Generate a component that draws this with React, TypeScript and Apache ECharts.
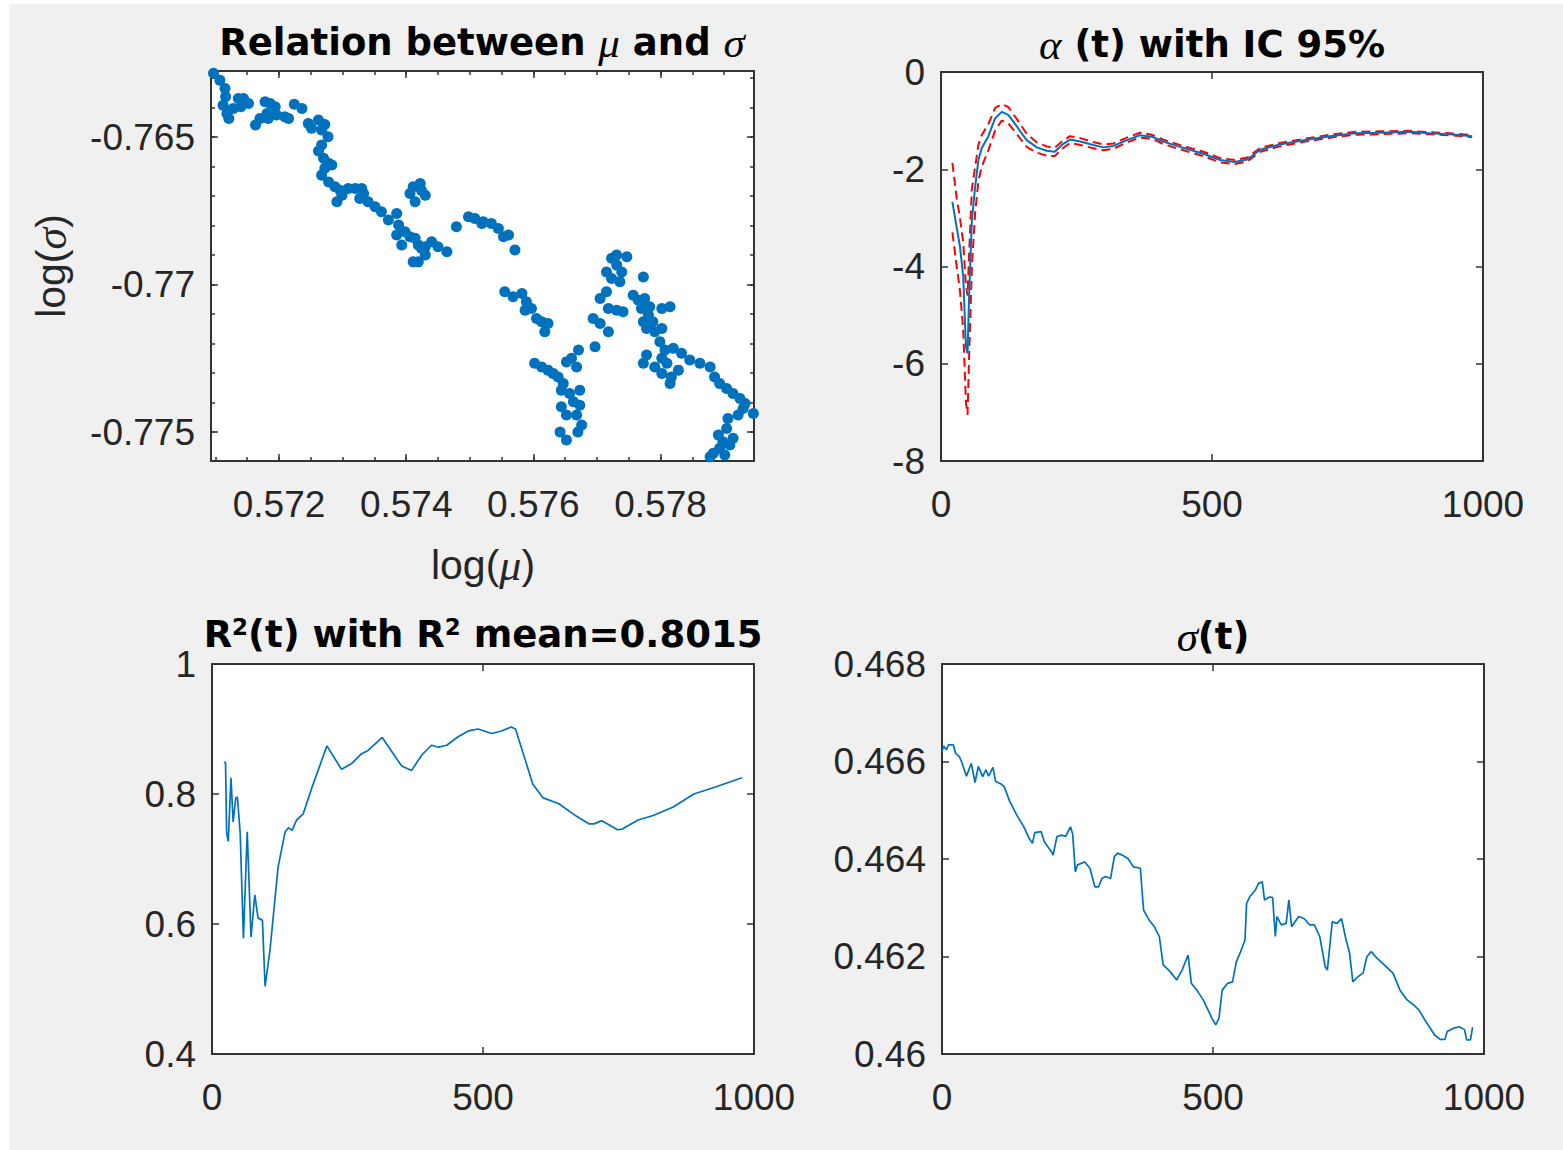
import React, { useEffect, useRef } from 'react';
import * as echarts from 'echarts';

// ---------- DATA ----------
// Top-left: scatter of log(mu) vs log(sigma)
const muSigmaPoints: [number, number][] = [
  [0.57097,-0.76284],[0.57107,-0.76307],[0.57115,-0.76335],[0.57116,-0.76363],[0.57112,-0.76392],
  [0.57118,-0.7642],[0.57121,-0.76437],[0.57128,-0.76403],[0.57136,-0.76369],[0.57144,-0.76369],
  [0.57152,-0.76386],[0.5714,-0.76397],[0.57163,-0.76459],[0.5717,-0.76437],[0.57178,-0.7638],
  [0.57186,-0.76386],[0.57194,-0.76397],[0.57181,-0.7642],[0.57183,-0.76437],[0.57196,-0.76425],
  [0.57209,-0.76431],[0.57215,-0.76437],[0.57224,-0.76389],[0.57236,-0.76403],[0.57246,-0.76454],
  [0.57251,-0.7647],[0.57262,-0.76442],[0.57272,-0.76457],[0.57267,-0.76476],[0.57277,-0.76499],
  [0.57267,-0.76527],[0.57262,-0.76547],[0.5727,-0.76572],[0.57278,-0.76589],[0.57283,-0.76595],
  [0.57272,-0.76606],[0.57267,-0.76629],[0.57278,-0.76652],[0.57288,-0.76668],[0.57296,-0.7668],
  [0.57291,-0.76719],[0.57299,-0.76697],[0.57309,-0.76674],[0.5732,-0.76674],[0.5733,-0.76674],
  [0.57333,-0.76691],[0.57327,-0.76708],[0.5734,-0.76719],[0.57351,-0.76736],[0.57361,-0.76753],
  [0.57372,-0.76781],[0.57385,-0.76759],[0.57388,-0.76798],[0.57385,-0.76832],[0.57393,-0.76866],
  [0.57398,-0.76821],[0.57406,-0.76838],[0.57414,-0.76843],[0.57419,-0.76866],[0.57424,-0.76877],
  [0.5743,-0.76872],[0.5744,-0.76855],[0.5745,-0.76872],[0.57464,-0.76889],[0.5743,-0.769],
  [0.57419,-0.76923],[0.57411,-0.76923],[0.57406,-0.76691],[0.57411,-0.76668],[0.57422,-0.76657],
  [0.5743,-0.76697],[0.57414,-0.76719],[0.57424,-0.7668],[0.57479,-0.76804],[0.57498,-0.7677],
  [0.57508,-0.76776],[0.57519,-0.76793],[0.57521,-0.76787],[0.57534,-0.76793],[0.57545,-0.7681],
  [0.57553,-0.76838],[0.57561,-0.76832],[0.57571,-0.76883],[0.57555,-0.77024],[0.57568,-0.77041],
  [0.57582,-0.7703],[0.57589,-0.77058],[0.57587,-0.77087],[0.57597,-0.77081],[0.57605,-0.77115],
  [0.57613,-0.77126],[0.57623,-0.77132],[0.57618,-0.7716],[0.57602,-0.77267],[0.57613,-0.77279],
  [0.57623,-0.7729],[0.57631,-0.77301],[0.57639,-0.77313],[0.57647,-0.77335],[0.57652,-0.77262],
  [0.5766,-0.7725],[0.57671,-0.77222],[0.57668,-0.77279],[0.57644,-0.77358],[0.57657,-0.77369],
  [0.57673,-0.77358],[0.57663,-0.77397],[0.57673,-0.77409],[0.57644,-0.77414],[0.57668,-0.77442],
  [0.57652,-0.77442],[0.57642,-0.775],[0.57652,-0.77527],[0.5767,-0.775],[0.57676,-0.77476],
  [0.57697,-0.77211],[0.57694,-0.77115],[0.57705,-0.77132],[0.57718,-0.7716],[0.57705,-0.77047],
  [0.57715,-0.77024],[0.57718,-0.77081],[0.57731,-0.77087],[0.57741,-0.77092],[0.57715,-0.76957],
  [0.57723,-0.76979],[0.57731,-0.76934],[0.57723,-0.76911],[0.57731,-0.769],[0.57747,-0.76906],
  [0.57736,-0.7699],[0.57739,-0.76957],[0.57773,-0.76974],[0.57757,-0.77036],[0.57765,-0.77053],
  [0.57775,-0.77047],[0.57783,-0.77075],[0.5777,-0.77081],[0.57781,-0.77103],[0.57788,-0.77126],
  [0.57802,-0.77081],[0.57815,-0.77075],[0.57773,-0.77126],[0.57778,-0.77149],[0.57791,-0.7716],
  [0.57802,-0.77149],[0.57799,-0.77194],[0.57807,-0.77222],[0.5782,-0.77216],[0.57833,-0.77233],
  [0.57846,-0.77256],[0.57862,-0.77267],[0.57878,-0.77279],[0.57885,-0.77313],[0.57893,-0.77335],
  [0.57904,-0.77352],[0.57914,-0.77369],[0.57925,-0.77386],[0.57933,-0.77403],[0.57946,-0.77437],
  [0.57773,-0.77267],[0.57778,-0.77239],[0.57791,-0.77279],[0.57802,-0.7725],[0.5781,-0.77267],
  [0.57802,-0.77301],[0.57817,-0.77313],[0.57815,-0.77335],[0.57828,-0.7729],[0.57906,-0.77454],
  [0.57904,-0.77488],[0.57891,-0.7751],[0.57898,-0.77533],[0.57909,-0.77544],[0.57893,-0.77555],
  [0.57883,-0.77572],[0.57878,-0.77584],[0.57901,-0.77578],[0.57914,-0.77521],[0.57922,-0.77442],
  [0.5793,-0.7742],
];

// Top-right: alpha(t) with 95% confidence band
const alphaT = [21,29,35,41,46,49,52,57,63,69,75,87,100,112,124,140,158,177,195,210,223,238,257,281,300,318,343,367,389,410,435,459,484,515,542,565,589,625,672,718,764,810,865,902,939,980];
const alphaMid = [-2.67,-3.2,-3.59,-4.21,-5.65,-5.79,-4.55,-3.05,-2.36,-1.81,-1.57,-1.33,-0.95,-0.82,-0.88,-1.12,-1.4,-1.55,-1.62,-1.64,-1.5,-1.39,-1.43,-1.5,-1.55,-1.52,-1.4,-1.3,-1.33,-1.43,-1.52,-1.6,-1.68,-1.81,-1.85,-1.8,-1.6,-1.49,-1.4,-1.32,-1.26,-1.25,-1.23,-1.26,-1.28,-1.32];
const alphaUp = [-1.87,-2.6,-3.0,-3.5,-4.4,-4.6,-3.7,-2.4,-1.95,-1.5,-1.3,-1.08,-0.74,-0.66,-0.72,-0.97,-1.27,-1.45,-1.53,-1.56,-1.43,-1.32,-1.36,-1.44,-1.49,-1.47,-1.35,-1.25,-1.29,-1.39,-1.48,-1.56,-1.64,-1.77,-1.81,-1.76,-1.56,-1.46,-1.37,-1.29,-1.23,-1.22,-1.21,-1.24,-1.26,-1.3];
const alphaLo = [-3.3,-4.0,-4.5,-5.3,-6.8,-7.05,-5.8,-4.0,-2.9,-2.25,-1.95,-1.62,-1.2,-1.0,-1.05,-1.28,-1.54,-1.66,-1.72,-1.73,-1.58,-1.46,-1.5,-1.57,-1.61,-1.58,-1.45,-1.35,-1.37,-1.48,-1.57,-1.65,-1.73,-1.86,-1.89,-1.84,-1.64,-1.53,-1.43,-1.35,-1.29,-1.28,-1.26,-1.28,-1.3,-1.34];

// Bottom-left: R^2(t)
const r2Points: [number, number][] = [
  [22,0.849],[25,0.848],[27,0.74],[30,0.727],[35,0.825],[39,0.757],[44,0.795],[47,0.794],[52,0.74],
  [58,0.578],[65,0.742],[72,0.58],[79,0.645],[85,0.609],[93,0.606],[98,0.504],[107,0.56],[122,0.688],
  [135,0.742],[141,0.748],[148,0.744],[156,0.76],[168,0.769],[184,0.809],[212,0.874],[239,0.838],
  [258,0.847],[276,0.862],[288,0.867],[314,0.887],[350,0.843],[368,0.836],[387,0.86],[405,0.875],
  [418,0.872],[433,0.875],[454,0.888],[473,0.897],[491,0.9],[516,0.893],[534,0.897],[552,0.903],
  [560,0.9],[592,0.815],[611,0.794],[640,0.785],[672,0.766],[696,0.754],[705,0.754],[719,0.759],
  [734,0.752],[748,0.745],[757,0.746],[786,0.76],[814,0.767],[851,0.78],[889,0.8],[926,0.81],[978,0.825],
];

// Bottom-right: sigma(t)
const sigmaT = [0,3,8,12,21,25,32,36,45,54,61,67,75,81,86,94,99,109,115,125,138,151,161,167,171,183,189,202,205,212,221,228,237,241,246,250,263,273,282,289,295,302,311,318,324,334,343,353,366,369,372,382,392,401,408,421,433,443,454,460,472,482,491,498,505,511,517,527,536,543,551,559,562,568,578,584,591,595,604,610,615,618,626,635,640,645,658,668,678,687,697,707,711,720,729,737,745,752,758,768,777,784,792,803,816,832,845,858,871,880,893,909,919,928,932,944,954,964,968,975,979];
const sigmaV = [0.4662,0.46632,0.46624,0.46634,0.46634,0.46617,0.4661,0.466,0.4657,0.46596,0.46557,0.4659,0.46569,0.46583,0.4657,0.46588,0.46559,0.46554,0.46548,0.46518,0.4649,0.46466,0.46442,0.46432,0.46454,0.46456,0.46435,0.46415,0.46408,0.46446,0.46449,0.46446,0.46466,0.46452,0.46374,0.46388,0.46394,0.46381,0.46343,0.46343,0.4636,0.46364,0.4636,0.46405,0.46412,0.46407,0.46401,0.46384,0.46381,0.46336,0.46295,0.46275,0.46261,0.46241,0.46183,0.46169,0.46152,0.46172,0.46203,0.46145,0.46128,0.46111,0.4609,0.46073,0.4606,0.46073,0.46131,0.46145,0.46148,0.46189,0.4621,0.46234,0.46309,0.46323,0.46336,0.4635,0.46353,0.46316,0.46322,0.46321,0.46241,0.46282,0.46265,0.46268,0.46316,0.46261,0.46282,0.46278,0.46265,0.46265,0.46241,0.46179,0.46172,0.46271,0.46268,0.46278,0.46237,0.46207,0.46148,0.46159,0.46166,0.462,0.4621,0.46196,0.46183,0.46166,0.46131,0.46111,0.461,0.4609,0.46066,0.46039,0.4603,0.4603,0.46046,0.46053,0.46056,0.4605,0.46029,0.46029,0.46055];

// Tick values for the top-left panel
const tlXMajor = [0.572, 0.574, 0.576, 0.578];
const tlXMinor = [0.571,0.5715,0.572,0.5725,0.573,0.5735,0.574,0.5745,0.575,0.5755,0.576,0.5765,0.577,0.5775,0.578,0.5785,0.579];
const tlYMajor = [-0.765, -0.77, -0.775];
const tlYMinor = [-0.763,-0.764,-0.765,-0.766,-0.767,-0.768,-0.769,-0.77,-0.771,-0.772,-0.773,-0.774,-0.775];
const tlXRange = [0.57093, 0.57947];
const tlYRange = [-0.77598, -0.76276];

// ---------- STYLE ----------
const FONT = 'Liberation Sans';
const AXC = '#333333';
const LBL = '#262626';
const BLUE = '#0072BD';

function axis(gridIndex: number, position: string, min: number, max: number, opts: any = {}) {
  const labelShow = !!opts.labels;
  const isX = position === 'bottom' || position === 'top';
  const a: any = {
    type: 'value',
    gridIndex,
    position,
    min,
    max,
    axisLine: { show: opts.line !== false, onZero: false, lineStyle: { color: AXC, width: 2 } },
    axisTick: {
      show: true,
      inside: true,
      length: opts.tickLen ?? 7,
      lineStyle: { color: AXC, width: 1.5 },
    },
    axisLabel: {
      show: labelShow,
      fontFamily: FONT,
      fontSize: 37,
      color: LBL,
      margin: isX ? 25 : 16,
      showMinLabel: true,
      showMaxLabel: true,
      formatter: (v: number) => String(Math.round(v * 1000) / 1000),
    },
    splitLine: { show: false },
  };
  if (opts.interval !== undefined) a.interval = opts.interval;
  if (opts.tickValues) a.axisTick.customValues = opts.tickValues;
  if (opts.labelValues) a.axisLabel.customValues = opts.labelValues;
  return a;
}

const titleRich = {
  b: { fontFamily: 'DejaVu Sans', fontWeight: 'bold', fontSize: 37, fill: '#000' },
  g: { fontFamily: 'Liberation Serif', fontStyle: 'italic', fontSize: 43, fill: '#000' },
  s: { fontFamily: 'DejaVu Sans', fontWeight: 'bold', fontSize: 23, fill: '#000', verticalAlign: 'top' },
};
const nameRich = {
  n: { fontFamily: FONT, fontSize: 41, fill: LBL },
  g: { fontFamily: 'Liberation Serif', fontStyle: 'italic', fontSize: 44, fill: LBL },
};

export default function App() {
  const ref = useRef<HTMLDivElement>(null);
  useEffect(() => {
    if (!ref.current) return;
    const chart = echarts.init(ref.current, undefined, { renderer: 'svg' });
    const grids = [
      { left: 211, top: 71, width: 543, height: 390 },
      { left: 941, top: 72, width: 542, height: 389 },
      { left: 212, top: 664, width: 542, height: 390 },
      { left: 942, top: 664, width: 542, height: 390 },
    ].map((g) => ({ ...g, show: true, backgroundColor: '#ffffff', borderWidth: 0, containLabel: false }));

    const xAxis = [
      axis(0, 'bottom', tlXRange[0], tlXRange[1], { labels: true, labelValues: tlXMajor, tickValues: tlXMajor, tickLen: 7 }),
      axis(0, 'bottom', tlXRange[0], tlXRange[1], { tickValues: tlXMinor, tickLen: 4, line: false }),
      axis(0, 'top', tlXRange[0], tlXRange[1], { tickValues: tlXMajor, tickLen: 7 }),
      axis(0, 'top', tlXRange[0], tlXRange[1], { tickValues: tlXMinor, tickLen: 4, line: false }),
      axis(1, 'bottom', 0, 1000, { labels: true, interval: 500 }),
      axis(1, 'top', 0, 1000, { interval: 500 }),
      axis(2, 'bottom', 0, 1000, { labels: true, interval: 500 }),
      axis(2, 'top', 0, 1000, { interval: 500 }),
      axis(3, 'bottom', 0, 1000, { labels: true, interval: 500 }),
      axis(3, 'top', 0, 1000, { interval: 500 }),
    ];
    const yAxis = [
      axis(0, 'left', tlYRange[0], tlYRange[1], { labels: true, labelValues: tlYMajor, tickValues: tlYMajor, tickLen: 7 }),
      axis(0, 'left', tlYRange[0], tlYRange[1], { tickValues: tlYMinor, tickLen: 4, line: false }),
      axis(0, 'right', tlYRange[0], tlYRange[1], { tickValues: tlYMajor, tickLen: 7 }),
      axis(0, 'right', tlYRange[0], tlYRange[1], { tickValues: tlYMinor, tickLen: 4, line: false }),
      axis(1, 'left', -8, 0, { labels: true, interval: 2 }),
      axis(1, 'right', -8, 0, { interval: 2 }),
      axis(2, 'left', 0.4, 1, { labels: true, interval: 0.2 }),
      axis(2, 'right', 0.4, 1, { interval: 0.2 }),
      axis(3, 'left', 0.46, 0.468, { labels: true, interval: 0.002 }),
      axis(3, 'right', 0.46, 0.468, { interval: 0.002 }),
    ];

    const series: any[] = [
      {
        type: 'scatter', xAxisIndex: 0, yAxisIndex: 0, data: muSigmaPoints,
        symbol: 'circle', symbolSize: 11, itemStyle: { color: BLUE, opacity: 1 }, silent: true,
      },
      {
        type: 'line', xAxisIndex: 4, yAxisIndex: 4, data: alphaT.map((t, i) => [t, alphaUp[i]]),
        symbol: 'none', lineStyle: { color: '#ff0000', width: 2, type: [9, 5] }, silent: true,
      },
      {
        type: 'line', xAxisIndex: 4, yAxisIndex: 4, data: alphaT.map((t, i) => [t, alphaLo[i]]),
        symbol: 'none', lineStyle: { color: '#ff0000', width: 2, type: [9, 5] }, silent: true,
      },
      {
        type: 'line', xAxisIndex: 4, yAxisIndex: 4, data: alphaT.map((t, i) => [t, alphaMid[i]]),
        symbol: 'none', lineStyle: { color: BLUE, width: 2 }, silent: true,
      },
      {
        type: 'line', xAxisIndex: 6, yAxisIndex: 6, data: r2Points,
        symbol: 'none', lineStyle: { color: BLUE, width: 1.7 }, silent: true,
      },
      {
        type: 'line', xAxisIndex: 8, yAxisIndex: 8, data: sigmaT.map((t, i) => [t, sigmaV[i]]),
        symbol: 'none', lineStyle: { color: BLUE, width: 1.7 }, silent: true,
      },
    ];

    const text = (x: number, y: number, t: string, rich: any, rotation = 0) => ({
      type: 'text', x, y, rotation, silent: true,
      style: { text: t, rich, align: 'center', verticalAlign: 'middle', fill: '#000' },
    });

    const graphic = [
      { type: 'rect', shape: { x: 0, y: 0, width: 9, height: 1150 }, style: { fill: '#ffffff' }, silent: true },
      { type: 'rect', shape: { x: 0, y: 0, width: 1563, height: 4 }, style: { fill: '#ffffff' }, silent: true },
      text(482, 42, '{b|Relation between }{g|μ}{b| and }{g|σ}', titleRich),
      text(1212, 44, '{g|α}{b| (t) with IC 95%}', titleRich),
      text(483, 634, '{b|R}{s|2}{b|(t) with R}{s|2}{b| mean=0.8015}', titleRich),
      text(1213, 636, '{g|σ}{b|(t)}', titleRich),
      text(483, 565, '{n|log(}{g|μ}{n|)}', nameRich),
      text(51, 266, '{n|log(}{g|σ}{n|)}', nameRich, Math.PI / 2),
    ];

    chart.setOption({
      animation: false,
      backgroundColor: '#f0f0f0',
      grid: grids,
      xAxis,
      yAxis,
      series,
      graphic: { elements: graphic },
    });
    return () => chart.dispose();
  }, []);
  return (
    <div style={{ position: 'fixed', left: 0, top: 0, width: 1563, height: 1150 }}>
      <div ref={ref} style={{ width: 1563, height: 1150 }} />
    </div>
  );
}
